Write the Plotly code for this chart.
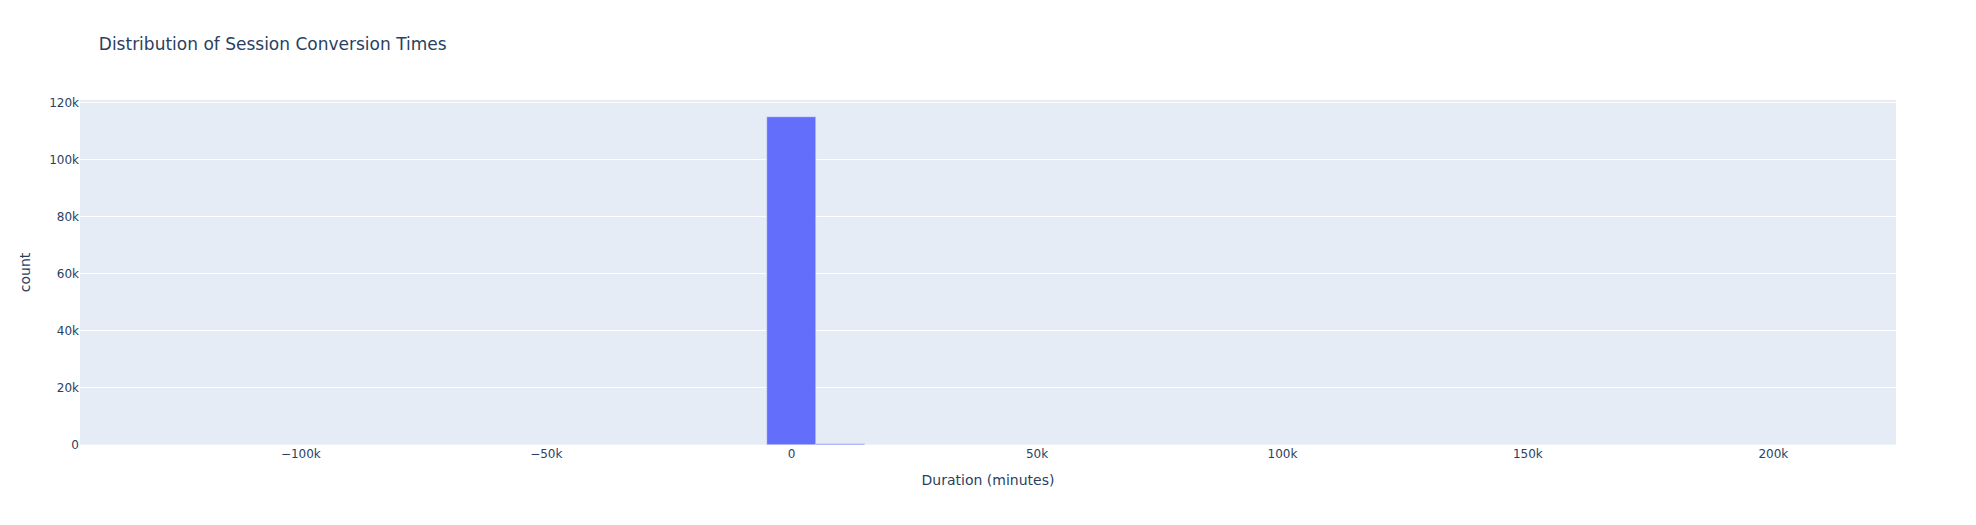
import plotly.graph_objects as go

# %% Data (10k-minute bins)
bin_start = -145000
bin_size = 10000
counts = [1, 0, 0, 0, 0, 0, 0, 1, 0, 0, 2, 1, 3, 6,
          114900, 420, 60, 25, 14, 9, 7, 5, 4, 3, 2, 2, 1, 1,
          1, 0, 1, 0, 0, 1, 0, 0, 1]
bin_centers = [bin_start + bin_size * (i + 0.5) for i in range(len(counts))]

# %% Plot
fig = go.Figure()
fig.add_trace(go.Bar(x=bin_centers, y=counts, width=bin_size,
                     marker_color="#636efa", name="count"))

fig.update_layout(
    template="plotly",
    width=1976, height=525,
    font_family="DejaVu Sans",
    title=dict(text="Distribution of Session Conversion Times"),
    xaxis_title="Duration (minutes)",
    yaxis_title="count",
    bargap=0,
    showlegend=False,
)

# page without the default body margin, no modebar
fig.write_html("out.html", config={"displayModeBar": False},
               post_script="document.body.style.margin='0';")
